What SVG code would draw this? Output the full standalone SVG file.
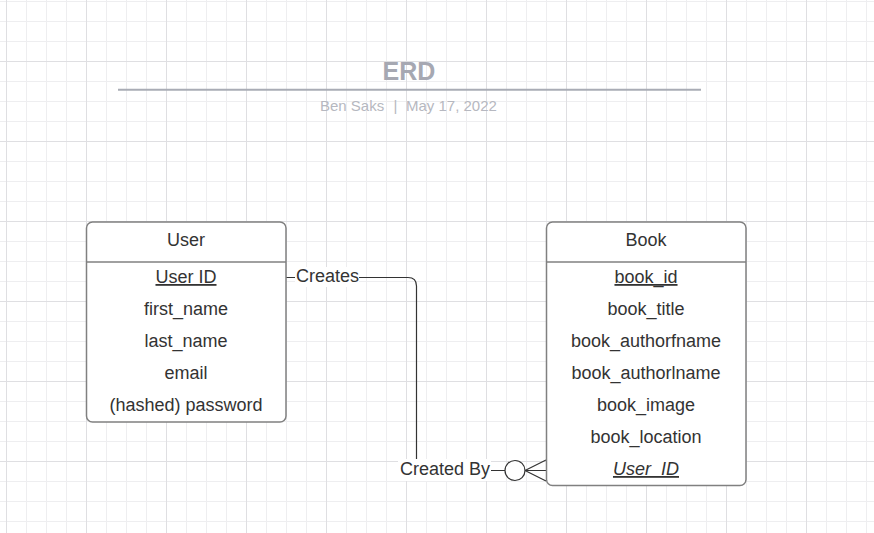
<svg xmlns="http://www.w3.org/2000/svg" width="874" height="533" viewBox="0 0 874 533">
  <style>
    .t { font-family: "Liberation Sans", Arial, sans-serif; font-size: 18px; fill: #333333; text-anchor: middle; }
    .box { fill: #ffffff; stroke: #808080; stroke-width: 1.5; }
    .div { stroke: #808080; stroke-width: 1.5; }
    .conn { fill: none; stroke: #333333; stroke-width: 1.2; }
    .lblbg { fill: #ffffff; }
  </style>
  <defs>
    <pattern id="grid" x="86" y="61" width="80" height="80" patternUnits="userSpaceOnUse">
      <path d="M20.5,0 V80 M40.5,0 V80 M60.5,0 V80 M0,20.5 H80 M0,40.5 H80 M0,60.5 H80" stroke="#eeeef0" stroke-width="1" fill="none"/>
      <path d="M0.5,0 V80 M0,0.5 H80" stroke="#dfdfe2" stroke-width="1" fill="none"/>
    </pattern>
  </defs>
  <rect x="0" y="0" width="874" height="533" fill="#ffffff"/>
  <rect x="0" y="0" width="874" height="533" fill="url(#grid)"/>

  <g id="title">
    <text x="409" y="80" font-family="Liberation Sans, Arial, sans-serif" font-size="25" font-weight="bold" fill="#a6a8b2" text-anchor="middle">ERD</text>
    <line x1="118" y1="89.8" x2="701" y2="89.8" stroke="#a9acb5" stroke-width="2"/>
    <text x="320" y="111" font-family="Liberation Sans, Arial, sans-serif" font-size="15" fill="#b6b8c0">Ben Saks</text>
    <text x="395.5" y="111" font-family="Liberation Sans, Arial, sans-serif" font-size="15" fill="#b6b8c0" text-anchor="middle">|</text>
    <text x="406" y="111" font-family="Liberation Sans, Arial, sans-serif" font-size="15" fill="#b6b8c0">May 17, 2022</text>
  </g>

  <g id="connectors">
    <path class="conn" d="M286,277.5 H408 Q416.5,277.5 416.5,286 V470.5 H505"/>
    <rect class="lblbg" x="295" y="267" width="64" height="20"/>
    <text class="t" x="327.5" y="282">Creates</text>
    <rect class="lblbg" x="398" y="459" width="93" height="22"/>
    <text class="t" x="445" y="475">Created By</text>
    <circle cx="515" cy="470.5" r="10" fill="#ffffff" stroke="#333333" stroke-width="1.2"/>
    <path class="conn" d="M525,470.5 L546,460 M525,470.5 H546 M525,470.5 L546,481"/>
  </g>

  <g id="user">
    <rect class="box" x="86.5" y="222" width="199.5" height="200" rx="6"/>
    <line class="div" x1="86.5" y1="262" x2="286" y2="262"/>
    <text class="t" x="186" y="246">User</text>
    <text class="t" x="186" y="283" text-decoration="underline">User ID</text>
    <text class="t" x="186" y="315">first_name</text>
    <text class="t" x="186" y="347">last_name</text>
    <text class="t" x="186" y="379">email</text>
    <text class="t" x="186" y="411">(hashed) password</text>
  </g>

  <g id="book">
    <rect class="box" x="546.5" y="222" width="199.5" height="263.5" rx="6"/>
    <line class="div" x1="546.5" y1="262" x2="746" y2="262"/>
    <text class="t" x="646" y="246">Book</text>
    <text class="t" x="646" y="283" text-decoration="underline">book_id</text>
    <text class="t" x="646" y="315">book_title</text>
    <text class="t" x="646" y="347">book_authorfname</text>
    <text class="t" x="646" y="379">book_authorlname</text>
    <text class="t" x="646" y="411">book_image</text>
    <text class="t" x="646" y="443">book_location</text>
    <text class="t" x="646" y="475" font-style="italic" text-decoration="underline">User_ID</text>
  </g>
</svg>
